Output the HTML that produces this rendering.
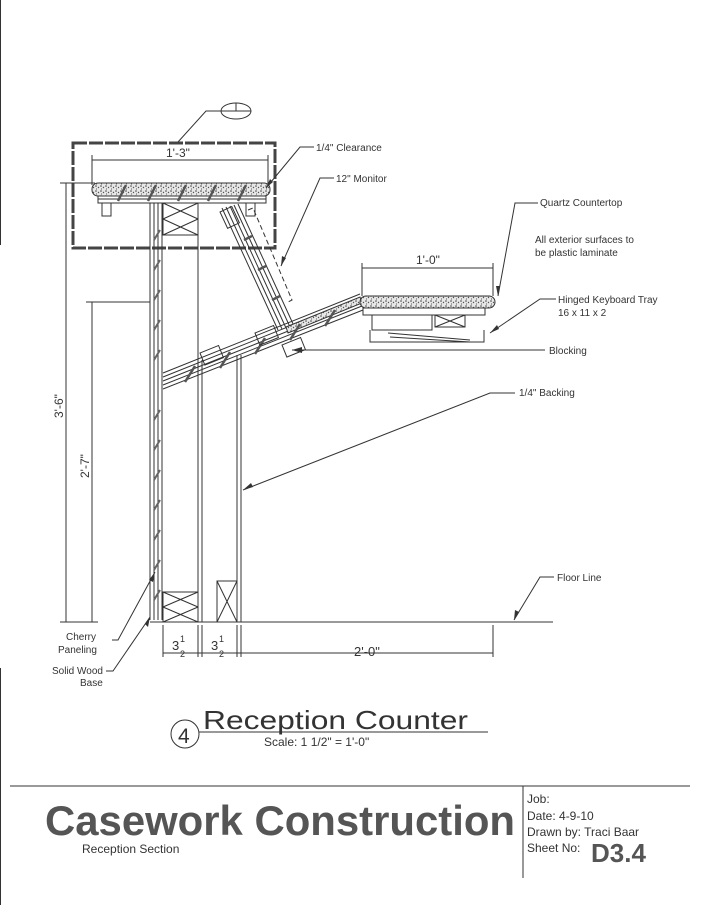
<!DOCTYPE html>
<html><head><meta charset="utf-8"><style>
html,body{margin:0;padding:0;background:#fff}
svg{display:block}
text{font-family:"Liberation Sans",sans-serif;fill:#333}
</style></head><body>
<svg width="701" height="905" viewBox="0 0 701 905" xmlns="http://www.w3.org/2000/svg">
<defs>
<pattern id="st" width="5" height="5" patternUnits="userSpaceOnUse">
<rect width="5" height="5" fill="#e8e8e8"/>
<circle cx="1" cy="1" r="0.8" fill="#444"/><circle cx="3.5" cy="2.5" r="0.7" fill="#555"/><circle cx="1.5" cy="4" r="0.6" fill="#666"/>
</pattern>
</defs>
<g stroke="#333" fill="none" stroke-width="1">
<line x1="0.5" y1="0" x2="0.5" y2="245"/>
<line x1="0.5" y1="668" x2="0.5" y2="905"/>
<rect x="73" y="143" width="202" height="105" stroke-width="3" stroke="#444" stroke-dasharray="14 2"/>
<ellipse cx="236" cy="111" rx="15" ry="8"/>
<line x1="236" y1="103" x2="236" y2="111"/><line x1="221" y1="111" x2="251" y2="111"/>
<polyline points="178,142 206,111 221,111"/>
<line x1="92" y1="160" x2="268" y2="160"/>
<line x1="92" y1="155" x2="92" y2="185"/><line x1="268" y1="155" x2="268" y2="185"/>
<rect x="92" y="183" width="178" height="13" rx="6" fill="url(#st)"/>
<rect x="98" y="196" width="168" height="7"/>
<line x1="98" y1="199" x2="266" y2="199"/>
<rect x="102" y="203" width="9" height="13"/><rect x="246" y="203" width="9" height="13"/>
<g stroke="#555" stroke-width="2.5">
<line x1="118" y1="201" x2="126" y2="185"/><line x1="148" y1="201" x2="156" y2="185"/><line x1="178" y1="201" x2="186" y2="185"/>
<line x1="208" y1="201" x2="216" y2="185"/><line x1="238" y1="201" x2="246" y2="185"/>
</g>
<line x1="150" y1="203" x2="150" y2="620"/>
<line x1="154" y1="203" x2="154" y2="620"/>
<line x1="158" y1="203" x2="158" y2="620"/>
<line x1="162" y1="203" x2="162" y2="620"/>
<g stroke="#666" stroke-width="2">
<line x1="154" y1="240" x2="160" y2="230"/><line x1="154" y1="270" x2="160" y2="260"/><line x1="154" y1="300" x2="160" y2="290"/>
<line x1="154" y1="330" x2="160" y2="320"/><line x1="154" y1="360" x2="160" y2="350"/><line x1="154" y1="420" x2="160" y2="410"/>
<line x1="154" y1="450" x2="160" y2="440"/><line x1="154" y1="480" x2="160" y2="470"/><line x1="154" y1="510" x2="160" y2="500"/>
<line x1="154" y1="540" x2="160" y2="530"/><line x1="154" y1="570" x2="160" y2="560"/><line x1="154" y1="600" x2="160" y2="590"/>
</g>
<rect x="163" y="203" width="35" height="32"/>
<line x1="163" y1="203" x2="198" y2="219"/><line x1="198" y1="203" x2="163" y2="219"/>
<line x1="163" y1="219" x2="198" y2="235"/><line x1="198" y1="219" x2="163" y2="235"/>
<line x1="198" y1="203" x2="198" y2="360"/>
<line x1="198" y1="360" x2="198" y2="622"/><line x1="202" y1="360" x2="202" y2="622"/>
<line x1="237" y1="355" x2="237" y2="622"/><line x1="241" y1="355" x2="241" y2="622"/>
<rect x="163" y="592" width="35" height="30"/>
<line x1="163" y1="592" x2="198" y2="607"/><line x1="198" y1="592" x2="163" y2="607"/>
<line x1="163" y1="607" x2="198" y2="622"/><line x1="198" y1="607" x2="163" y2="622"/>
<rect x="217" y="581" width="20" height="41"/>
<line x1="217" y1="581" x2="237" y2="622"/><line x1="237" y1="581" x2="217" y2="622"/>
<line x1="222" y1="208" x2="278" y2="330"/>
<line x1="226" y1="207" x2="282" y2="329"/>
<line x1="230" y1="206" x2="286" y2="328"/>
<line x1="234" y1="205" x2="290" y2="327"/>
<line x1="238" y1="204" x2="294" y2="326"/>
<g stroke="#555" stroke-width="2.5">
<line x1="244" y1="240" x2="252" y2="236"/><line x1="258" y1="270" x2="266" y2="266"/><line x1="272" y1="300" x2="280" y2="296"/>
</g>
<rect x="0" y="0" width="13" height="18" transform="translate(220,212) rotate(-25)"/>
<polyline points="248,210 253,208 292,300 286,303" stroke-dasharray="5 3"/>
<line x1="163" y1="373" x2="360" y2="294"/>
<line x1="163" y1="377" x2="360" y2="298"/>
<line x1="163" y1="381" x2="361" y2="302"/>
<line x1="163" y1="385" x2="362" y2="306"/>
<line x1="163" y1="389" x2="363" y2="310"/>
<polygon points="286,327 360,297 362,303 288,333" fill="url(#st)"/>
<g stroke="#555" stroke-width="2.5">
<line x1="185" y1="382" x2="195" y2="366"/><line x1="220" y1="368" x2="230" y2="352"/><line x1="255" y1="354" x2="265" y2="338"/>
<line x1="290" y1="340" x2="300" y2="324"/><line x1="325" y1="326" x2="335" y2="310"/>
<line x1="380" y1="308" x2="386" y2="298"/><line x1="410" y1="308" x2="416" y2="298"/><line x1="440" y1="308" x2="446" y2="298"/><line x1="468" y1="308" x2="474" y2="298"/>
</g>
<rect x="0" y="0" width="20" height="13" transform="translate(200,353) rotate(-22)"/>
<rect x="0" y="0" width="20" height="13" transform="translate(255,333) rotate(-22)"/>
<rect x="0" y="0" width="20" height="13" transform="translate(282,345) rotate(-22)"/>
<rect x="360" y="296" width="135" height="12" rx="6" fill="url(#st)"/>
<rect x="363" y="308" width="122" height="7"/>
<rect x="372" y="315" width="60" height="15"/>
<rect x="435" y="315" width="30" height="12"/>
<line x1="435" y1="315" x2="465" y2="327"/><line x1="465" y1="315" x2="435" y2="327"/>
<polyline points="370,330 370,342 484,342 484,330"/>
<line x1="388" y1="333" x2="470" y2="340"/><line x1="390" y1="337" x2="470" y2="342"/>
<line x1="362" y1="268" x2="493" y2="268"/>
<line x1="362" y1="263" x2="362" y2="296"/><line x1="493" y1="263" x2="493" y2="296"/>
<line x1="150" y1="622" x2="553" y2="622"/>
<line x1="66" y1="183" x2="66" y2="622"/><line x1="60" y1="183" x2="95" y2="183"/>
<line x1="92" y1="302" x2="92" y2="622"/><line x1="86" y1="302" x2="150" y2="302"/>
<line x1="60" y1="622" x2="98" y2="622"/>
<line x1="163" y1="653" x2="493" y2="653"/>
<line x1="163" y1="625" x2="163" y2="657"/><line x1="198" y1="625" x2="198" y2="657"/>
<line x1="202" y1="625" x2="202" y2="657"/><line x1="237" y1="625" x2="237" y2="657"/>
<line x1="241" y1="625" x2="241" y2="657"/><line x1="493" y1="625" x2="493" y2="657"/>
<polyline points="314,147 300,147 266,188"/>
<polyline points="334,178 320,178 281,266"/>
<polyline points="538,203 515,203 498,296"/>
<polyline points="556,299 540,299 490,333"/>
<line x1="545" y1="350" x2="292" y2="350"/>
<polyline points="515,393 490,393 243,490"/>
<polyline points="554,577 540,577 514,620"/>
<polyline points="112,640 118,640 155,572"/>
<polyline points="106,671 113,671 150,617"/>
<circle cx="185" cy="734" r="14"/>
<line x1="199" y1="732" x2="488" y2="732"/>
<line x1="10" y1="786" x2="690" y2="786"/>
<line x1="523" y1="786" x2="523" y2="878"/>
</g>
<g fill="#333">
<polygon points="266,188 270,179 273,182"/><polygon points="281,266 282,256 286,258"/>
<polygon points="498,296 496,286 500,286"/><polygon points="490,333 497,325 499,329"/>
<polygon points="292,350 302,347 302,353"/><polygon points="243,490 251,483 253,487"/>
<polygon points="514,620 515,610 519,612"/><polygon points="155,572 153,582 149,580"/>
<polygon points="150,617 148,627 145,624"/>
</g>
<g font-size="10">
<text x="316" y="151">1/4" Clearance</text>
<text x="336" y="182">12" Monitor</text>
<text x="540" y="206">Quartz Countertop</text>
<text x="535" y="243">All exterior surfaces to</text>
<text x="535" y="256">be plastic laminate</text>
<text x="558" y="303">Hinged Keyboard Tray</text>
<text x="558" y="316">16 x 11 x 2</text>
<text x="549" y="354">Blocking</text>
<text x="519" y="396">1/4" Backing</text>
<text x="557" y="581">Floor Line</text>
<text x="66" y="640">Cherry</text>
<text x="58" y="653">Paneling</text>
<text x="52" y="674">Solid Wood</text>
<text x="80" y="686">Base</text>
<text x="166" y="157" font-size="12">1'-3"</text>
<text x="416" y="264" font-size="12">1'-0"</text>
<text x="354" y="656" font-size="13">2'-0"</text>
<text x="172" y="650" font-size="13">3</text><text x="180" y="642" font-size="9">1</text><text x="180" y="657" font-size="9">2</text>
<text x="211" y="650" font-size="13">3</text><text x="219" y="642" font-size="9">1</text><text x="219" y="657" font-size="9">2</text>
<text transform="translate(63,418) rotate(-90)" font-size="12">3'-6"</text>
<text transform="translate(89,478) rotate(-90)" font-size="12">2'-7"</text>
<text x="178" y="743" font-size="21">4</text>
<text x="203" y="729" font-size="26" textLength="265" lengthAdjust="spacingAndGlyphs">Reception Counter</text>
<text x="264" y="746" font-size="12">Scale: 1 1/2" = 1'-0"</text>
<text x="45" y="835" font-size="42" font-weight="bold" style="fill:#555" textLength="470" lengthAdjust="spacingAndGlyphs">Casework Construction</text>
<text x="82" y="853" font-size="12">Reception Section</text>
<text x="527" y="803" font-size="12">Job:</text>
<text x="527" y="820" font-size="12">Date: 4-9-10</text>
<text x="527" y="836" font-size="12">Drawn by: Traci Baar</text>
<text x="527" y="852" font-size="12">Sheet No:</text>
<text x="591" y="862" font-size="26" font-weight="bold" style="fill:#555">D3.4</text>
</g>
</svg>
</body></html>
